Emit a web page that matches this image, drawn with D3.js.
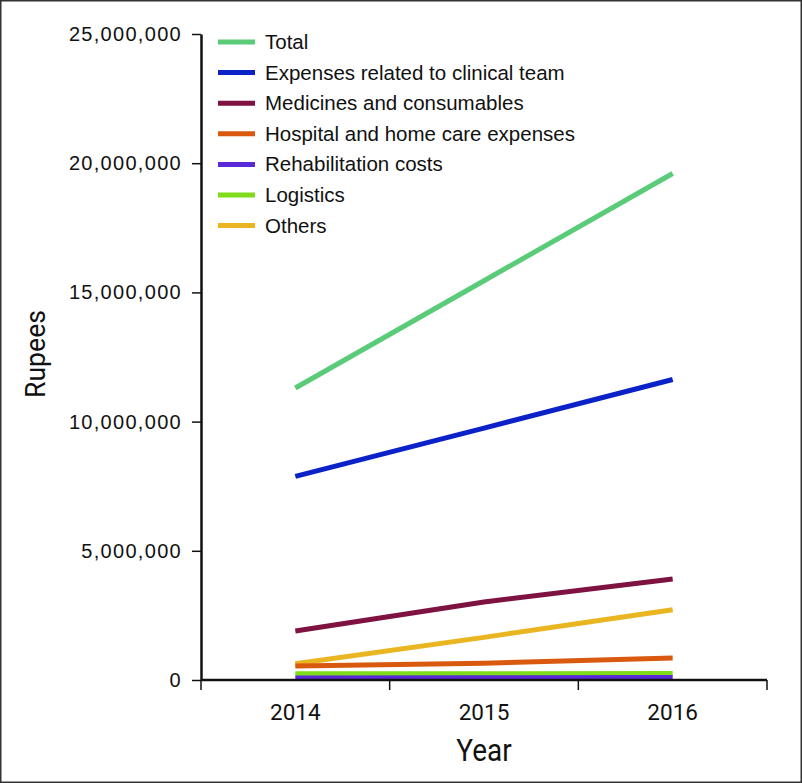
<!DOCTYPE html>
<html><head><meta charset="utf-8">
<script src="https://cdn.jsdelivr.net/npm/d3@7"></script>
<style>
html,body{margin:0;padding:0;background:#fff;}
svg{display:block;}
</style></head>
<body>
<script>
const years = ["2014", "2015", "2016"];
const seriesNames = ["Total", "Expenses related to clinical team", "Medicines and consumables", "Hospital and home care expenses", "Rehabilitation costs", "Logistics", "Others"];
const seriesColors = ["#5acb78", "#0a22c8", "#7e1240", "#d9590f", "#5a2ad8", "#7fdc1a", "#e9b521"];
const total = [11300000, 15450000, 19600000];
const clinicalTeam = [7880000, 9750000, 11630000];
const medicines = [1900000, 3020000, 3910000];
const hospitalHome = [540000, 650000, 850000];
const rehabilitation = [80000, 90000, 100000];
const logistics = [240000, 240000, 250000];
const others = [630000, 1650000, 2720000];
const yTicks = [0, 5000000, 10000000, 15000000, 20000000, 25000000];

const seriesValues = [total, clinicalTeam, medicines, hospitalHome, rehabilitation, logistics, others];
const W = 802, H = 783;
const svg = d3.select("body").append("svg").attr("width", W).attr("height", H);
svg.append("rect").attr("x",0.75).attr("y",0.75).attr("width",W-1.5).attr("height",H-1.5)
  .attr("fill","#fff").attr("stroke","#333").attr("stroke-width",1.5);

const x = d3.scaleBand().domain(years).range([201, 767]);
const y = d3.scaleLinear().domain([0, 25000000]).range([680, 34]);

const line = d3.line().x((d,i)=>x(years[i]) + x.bandwidth()/2).y(d=>y(d));
const drawOrder = [0,1,2,6,3,5,4];
drawOrder.forEach(k=>{
  svg.append("path").datum(seriesValues[k]).attr("d", line)
    .attr("fill","none").attr("stroke", seriesColors[k]).attr("stroke-width",5);
});

// y axis
const yAxis = d3.axisLeft(y).tickValues(yTicks).tickFormat(d3.format(",")).tickSize(9).tickSizeOuter(0);
const gy = svg.append("g").attr("transform","translate(201,0)").call(yAxis);
gy.select(".domain").attr("stroke","#111").attr("stroke-width",2.5);
gy.selectAll(".tick line").attr("stroke","#111").attr("stroke-width",1.5);
gy.selectAll(".tick text").attr("x",-19).attr("fill","#111")
  .style("font-family","'Liberation Sans', Arial, sans-serif").style("font-size","20px").style("letter-spacing","1.3px");

// x axis
const xAxis = d3.axisBottom(x).tickSize(0).tickSizeOuter(0);
const gx = svg.append("g").attr("transform","translate(0,680)").call(xAxis);
gx.select(".domain").attr("stroke","#111").attr("stroke-width",2.5).attr("d","M201,0H767");
gx.selectAll(".tick text").attr("y",24).attr("fill","#111")
  .style("font-family","Roboto, sans-serif").style("font-size","22.5px");
const bounds = years.map(v=>x(v)).concat([x(years[years.length-1]) + x.bandwidth()]);
gx.selectAll(".bt").data(bounds).enter().append("line")
  .attr("x1",d=>d).attr("x2",d=>d).attr("y1",0).attr("y2",10)
  .attr("stroke","#111").attr("stroke-width",1.5);

// axis titles
svg.append("text").attr("transform","translate(45,354) rotate(-90) scale(0.95,1)").attr("text-anchor","middle")
  .style("font-family","Roboto, sans-serif").style("font-size","28px").attr("fill","#111").text("Rupees");
svg.append("text").attr("transform","translate(484,761) scale(0.9,1)").attr("text-anchor","middle")
  .style("font-family","Roboto, sans-serif").style("font-size","31px").attr("fill","#111").text("Year");

// legend
const lg = svg.append("g");
seriesNames.forEach((name,i)=>{
  const yy = 42 + i*30.6;
  lg.append("line").attr("x1",218).attr("x2",255).attr("y1",yy).attr("y2",yy)
    .attr("stroke",seriesColors[i]).attr("stroke-width",5);
  lg.append("text").attr("x",265).attr("y",yy+7).attr("fill","#111")
    .style("font-family","'Liberation Sans', Arial, sans-serif").style("font-size","20.5px").text(name);
});
</script>
</body></html>
